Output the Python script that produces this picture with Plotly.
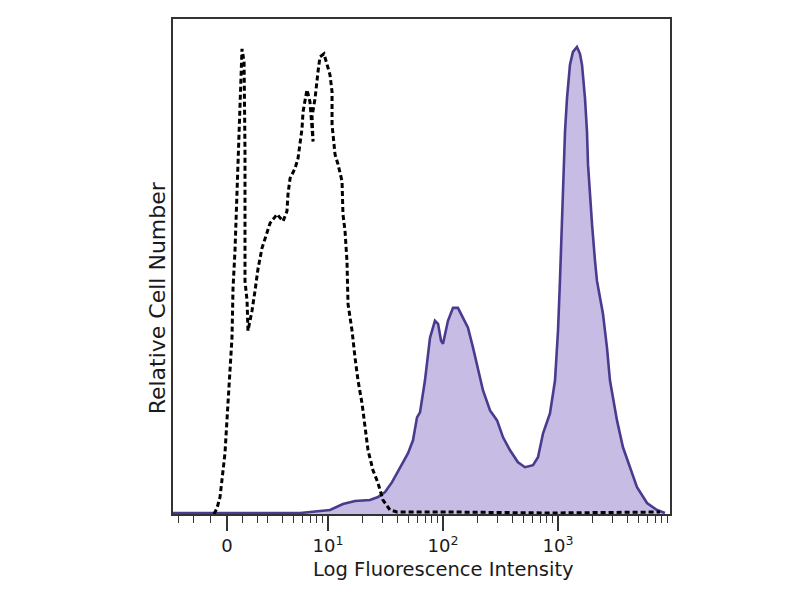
import numpy as np
import plotly.graph_objects as go

# x in decades of the display scale (1 = 10^1), y in relative counts
ctrl_x = [0.009, 0.035, 0.061, 0.104, 0.130, 0.165, 0.174, 0.191, 0.217, 0.235, 0.252,
          0.270, 0.278, 0.278, 0.296, 0.304, 0.339, 0.365, 0.391, 0.426, 0.496, 0.557,
          0.609, 0.643, 0.652, 0.670, 0.713, 0.739, 0.757, 0.774, 0.783, 0.817, 0.843,
          0.870, 0.861, 0.887, 0.913, 0.930, 0.965, 0.991, 1.017, 1.035, 1.035, 1.061,
          1.087, 1.122, 1.130, 1.148, 1.165, 1.174, 1.209, 1.235, 1.261, 1.296, 1.322,
          1.348, 1.391, 1.435, 1.478, 1.539, 1.600, 2.061, 2.930, 3.887]
ctrl_y = [0, 6, 17, 61, 111, 177, 227, 264, 351, 414, 467,
          454, 364, 234, 214, 184, 204, 224, 246, 267, 292, 301,
          294, 304, 321, 337, 347, 357, 374, 387, 404, 426, 414,
          374, 399, 417, 444, 459, 462, 452, 441, 424, 391, 361,
          351, 334, 301, 284, 254, 211, 184, 157, 134, 111, 87,
          64, 44, 31, 14, 4, 2, 2, 1, 2]

stain_x = [-0.348, 0.757, 1.017, 1.130, 1.235, 1.365, 1.435, 1.496, 1.557, 1.626, 1.696,
           1.739, 1.774, 1.800, 1.843, 1.887, 1.930, 1.957, 1.983, 2.000, 2.043, 2.087,
           2.130, 2.174, 2.217, 2.261, 2.304, 2.348, 2.409, 2.470, 2.522, 2.583, 2.652,
           2.713, 2.783, 2.826, 2.870, 2.930, 2.974, 3.000, 3.017, 3.035, 3.043, 3.061,
           3.078, 3.104, 3.130, 3.165, 3.191, 3.209, 3.235, 3.252, 3.261, 3.278, 3.296,
           3.322, 3.339, 3.391, 3.426, 3.452, 3.513, 3.565, 3.626, 3.687, 3.774, 3.861,
           3.930]
stain_y = [1, 1, 4, 10, 13, 14, 17, 22, 32, 46, 61,
           74, 97, 102, 134, 177, 194, 191, 174, 171, 194, 207,
           207, 197, 187, 167, 147, 124, 104, 94, 77, 64, 52,
           47, 49, 57, 81, 101, 134, 184, 234, 291, 334, 384,
           417, 451, 464, 469, 462, 451, 417, 384, 351, 317, 291,
           254, 234, 201, 167, 134, 94, 67, 47, 27, 11, 4,
           1]

tick_pos = [0.122, 1, 2, 3]
tick_txt = ['0', '10<sup>1</sup>', '10<sup>2</sup>', '10<sup>3</sup>']
near_zero_minor = [-0.304, -0.174, -0.026, 0.252, 0.391]

minor_ticks = list(near_zero_minor)
minor_ticks += [float(np.log10(k)) for k in range(3, 10)]
for d in (1, 2, 3):
    for k in range(2, 10):
        v = d + float(np.log10(k))
        if v < 3.97:
            minor_ticks.append(v)

# page body has an 8px margin, so the figure is laid out 8px in from the window
ML, MR, MT, MB = 165, 138, 9, 94
W, H = 800, 600

fig = go.Figure()
fig.add_trace(go.Scatter(
    x=stain_x, y=stain_y, mode='lines', fill='tozeroy',
    fillcolor='#c6bce4', line=dict(color='#4a3b8f', width=2.6), hoverinfo='skip'))
fig.add_trace(go.Scatter(
    x=ctrl_x, y=ctrl_y, mode='lines',
    line=dict(color='black', width=3, dash='5px,3px'), hoverinfo='skip'))

fig.update_layout(
    width=W, height=H,
    margin=dict(l=ML, r=MR, t=MT, b=MB),
    plot_bgcolor='white', paper_bgcolor='white',
    showlegend=False,
    font=dict(family='DejaVu Sans', color='#1a1a1a'),
    xaxis=dict(
        range=[-0.348, 3.974], showgrid=False, zeroline=False,
        showline=True, linecolor='#333', linewidth=1.6, mirror=True,
        tickmode='array', tickvals=tick_pos, ticktext=tick_txt,
        ticks='outside', ticklen=15, tickwidth=1.6, tickcolor='#333',
        tickfont=dict(size=18, color='#1a1a1a'),
        minor=dict(tickmode='array', tickvals=minor_ticks, ticks='outside',
                   ticklen=7, tickwidth=1.3, tickcolor='#333'),
    ),
    yaxis=dict(
        range=[0, 497], showgrid=False, zeroline=False,
        showline=True, linecolor='#333', linewidth=1.6, mirror=True,
        showticklabels=False, ticks='',
    ),
)

# axis titles placed at window pixel centres (converted to paper coords)
titles = [
    ('Log Fluorescence Intensity', 443, 583, 0, 19.5),
    ('Relative Cell Number', 143, 297, -90, 22),
]
w_plot = W - ML - MR
h_plot = H - MT - MB
for txt, px, py, ang, size in titles:
    fig.add_annotation(
        text=txt, showarrow=False, textangle=ang,
        xref='paper', yref='paper',
        x=(px - 8 - ML) / w_plot, y=(H - MB - (py - 8)) / h_plot,
        font=dict(size=size, color='#1a1a1a'))

fig.write_html("out.html")
